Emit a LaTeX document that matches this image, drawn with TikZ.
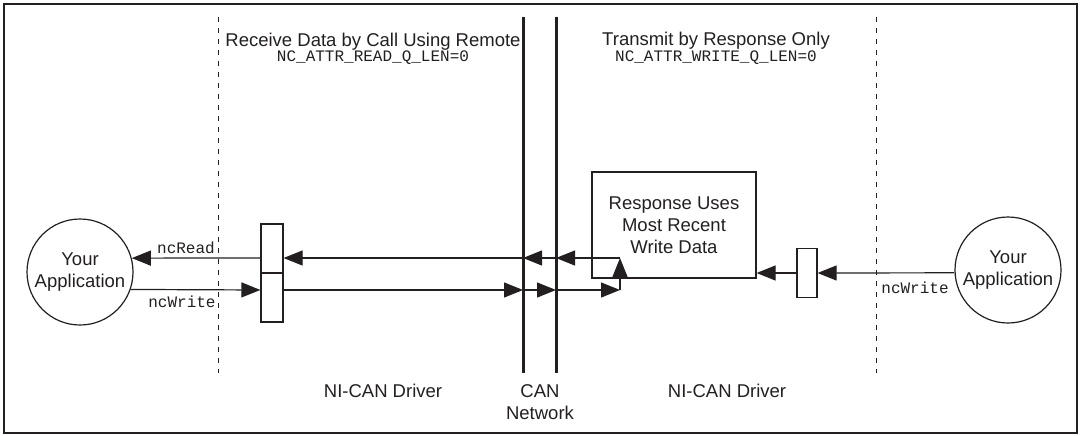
\documentclass[tikz,border=0pt]{standalone}
\usepackage{fontspec}
\setmainfont{Liberation Sans}
\setmonofont{Liberation Mono}
\usetikzlibrary{arrows.meta}
\definecolor{ink}{HTML}{231F20}
\begin{document}
\begin{tikzpicture}[x=1pt,y=-1pt,
  thin/.style={draw=ink, line width=1.2pt},
  arr/.style={draw=ink, line width=1.2pt, -{Triangle[length=19pt,width=15pt]}},
  bus/.style={draw=ink, line width=3pt},
  guide/.style={draw=ink, line width=1pt, dash pattern=on 5pt off 6pt},
  lbl/.style={font=\fontsize{18.5}{22}\selectfont, text=ink, inner sep=0pt, align=center},
  mono/.style={font=\ttfamily\fontsize{16}{18}\selectfont, text=ink, inner sep=0pt},
  app/.style={circle, thin, minimum size=106pt, inner sep=0pt, lbl},
  boxn/.style={rectangle, thin, inner sep=0pt}]
\useasboundingbox (0,0) rectangle (1081,436);
\draw[ink, line width=2pt] (4,4) rectangle (1077,433);
% guide lines
\coordinate (gLt) at (218,17); \coordinate (gLb) at (218,373);
\coordinate (gRt) at (876,17); \coordinate (gRb) at (876,373);
\draw[guide] (gLt) -- (gLb);
\draw[guide] (gRt) -- (gRb);
% CAN bus lines
\coordinate (c1t) at (523,17); \coordinate (c1b) at (523,373);
\coordinate (c2t) at (556,17); \coordinate (c2b) at (556,373);
\draw[bus] (c1t) -- (c1b);
\draw[bus] (c2t) -- (c2b);
% titles
\node[lbl] (t1) at (373,42) {Receive Data by Call Using Remote};
\node[mono] (t1s) at (373,58) {NC\_ATTR\_READ\_Q\_LEN=0};
\node[lbl] (t2) at (716,41) {Transmit by Response Only};
\node[mono] (t2s) at (716,58) {NC\_ATTR\_WRITE\_Q\_LEN=0};
% bottom labels
\node[lbl] (b1) at (383,391) {NI-CAN Driver};
\node[lbl] (b2) at (540,402) {CAN\\Network};
\node[lbl] (b3) at (727,391) {NI-CAN Driver};
% applications
\node[app] (appL) at (80,272) {Your\\Application};
\node[app] (appR) at (1008,270) {Your\\Application};
% left queue box
\node[boxn, minimum width=22pt, minimum height=98pt] (bxL) at (272,273) {};
\draw[thin] (bxL.west) -- (bxL.east);
% right queue box
\node[boxn, minimum width=20pt, minimum height=49pt] (bxR) at (807,273) {};
% response box
\node[boxn, minimum width=164pt, minimum height=106pt, lbl] (resp) at (674,225) {Response Uses\\Most Recent\\Write Data};
% connection points
\coordinate (r1) at (523,258); \coordinate (r2) at (556,258); \coordinate (r3) at (620,258);
\coordinate (w1) at (523,290); \coordinate (w2) at (556,290); \coordinate (w3) at (620,290);
% read path
\draw[arr] (bxL.west |- r1) -- (appL.15.3);
\draw[arr] (r1) -- (bxL.east |- r1);
\draw[arr] (r2) -- (r1);
\draw[arr] (r3) -- (r2);
\draw[arr] (w3) -- (r3);
% write path
\draw[arr] (appL.-19.9) -- (bxL.west |- w1);
\draw[arr] (bxL.east |- w1) -- (w1);
\draw[arr] (w1) -- (w2);
\draw[arr] (w2) -- (w3);
% right side
\draw[arr] (bxR.west) -- (resp.east |- bxR.west);
\draw[arr] (appR.183.2) -- (bxR.east);
% call labels
\node[mono] (lr) at (186,248) {ncRead};
\node[mono] (lw) at (182,302) {ncWrite};
\node[mono] (rw) at (915,288) {ncWrite};
\end{tikzpicture}
\end{document}
